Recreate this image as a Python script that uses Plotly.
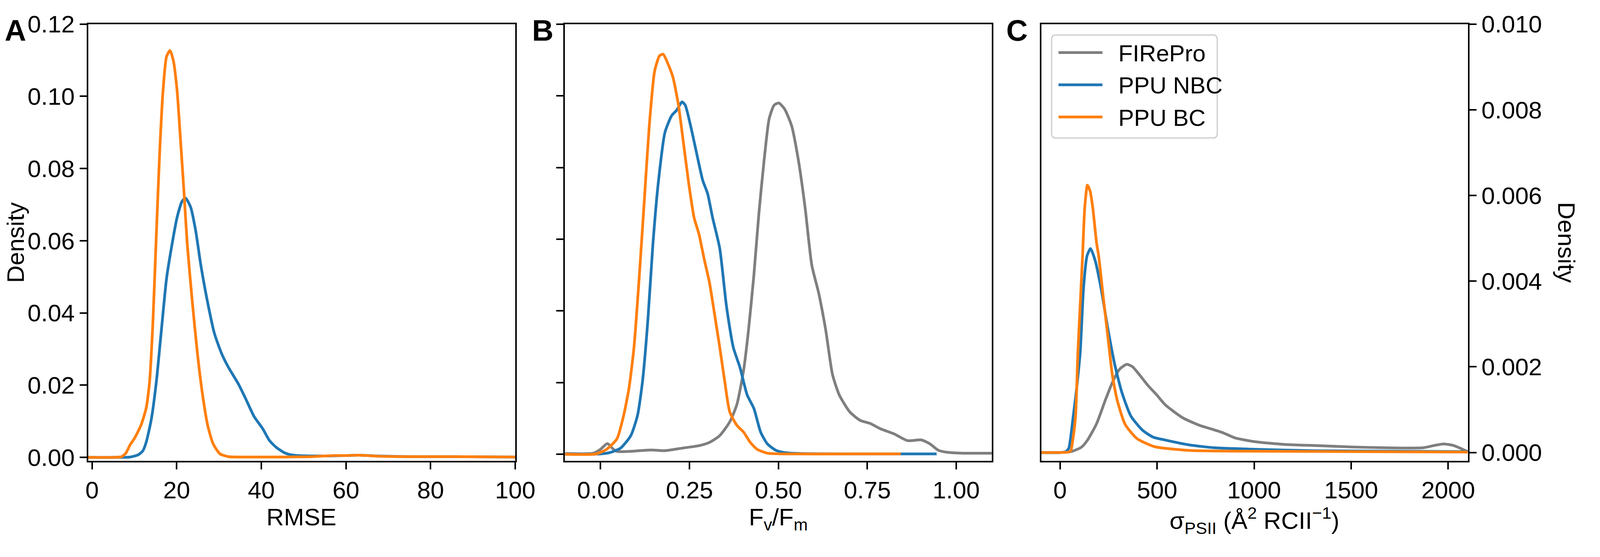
import plotly.graph_objects as go

# ---------------- data ----------------
# Panel A: RMSE densities
rmse_bc_x = [-1, 5, 7, 8, 9, 10, 11.6, 12.8, 13.6, 14.4, 15.2, 16, 16.8, 17.6, 18.4, 19.2, 20.1, 20.9,
             21.7, 22.5, 23.7, 24.9, 26.1, 27.3, 28.6, 30.2, 32.2, 36, 45, 52, 57, 60, 63, 68, 75, 85, 100]
rmse_bc_y = [0, 0, 0.0002, 0.0012, 0.0035, 0.0052, 0.009, 0.0137, 0.021, 0.038, 0.062, 0.085, 0.102,
             0.111, 0.1127, 0.110, 0.1015, 0.088, 0.074, 0.059, 0.043, 0.0288, 0.0175, 0.009, 0.0038,
             0.001, 0.0002, 0.0001, 0.0001, 0.0002, 0.0005, 0.0005, 0.0006, 0.0003, 0.0002, 0.0002, 0.0001]
rmse_nbc_x = [-1, 6, 9, 10.9, 12, 12.8, 14, 15.2, 16.4, 17.6, 18.9, 20.1, 21.3, 22.1, 23.3, 24.5, 25.7,
              27.3, 28.9, 30.6, 32.2, 34.6, 36.2, 38.3, 40.3, 41.9, 43.5, 45.6, 47.6, 51.6, 56, 60, 63,
              67, 75, 85, 100]
rmse_nbc_y = [0, 0, 0.0001, 0.0007, 0.0018, 0.0042, 0.0105, 0.021, 0.0354, 0.0495, 0.059, 0.0665, 0.071,
              0.0718, 0.0693, 0.0627, 0.0533, 0.043, 0.0344, 0.0288, 0.025, 0.0203, 0.0165, 0.0113,
              0.008, 0.0047, 0.0028, 0.0012, 0.0006, 0.0004, 0.0004, 0.0005, 0.0006, 0.0004, 0.0002,
              0.0002, 0.0001]

# Panel B: Fv/Fm densities
fvfm_fire_x = [-0.1, -0.02, 0.0, 0.019, 0.035, 0.046, 0.08, 0.142, 0.18, 0.229, 0.277, 0.306, 0.335,
               0.363, 0.383, 0.402, 0.416, 0.431, 0.445, 0.46, 0.474, 0.488, 0.501, 0.517, 0.537, 0.556,
               0.575, 0.594, 0.613, 0.633, 0.652, 0.671, 0.7, 0.729, 0.758, 0.787, 0.825, 0.863, 0.902,
               0.926, 0.95, 0.979, 1.02, 1.1]
fvfm_fire_y = [0.0002, 0.0003, 0.0014, 0.0030, 0.0015, 0.0008, 0.0008, 0.0012, 0.001, 0.0017, 0.0024,
               0.0033, 0.0052, 0.009, 0.0138, 0.0233, 0.0347, 0.0499, 0.067, 0.0822, 0.0936, 0.0974,
               0.098, 0.0964, 0.0917, 0.0822, 0.0689, 0.0527, 0.0451, 0.0347, 0.0223, 0.0166, 0.0119,
               0.0095, 0.0086, 0.0071, 0.0057, 0.0038, 0.004, 0.0029, 0.0011, 0.0005, 0.0003, 0.0003]
fvfm_nbc_x = [-0.1, 0.0, 0.027, 0.056, 0.085, 0.104, 0.118, 0.133, 0.147, 0.162, 0.181, 0.2, 0.214,
              0.229, 0.238, 0.253, 0.272, 0.287, 0.301, 0.315, 0.335, 0.354, 0.373, 0.392, 0.412, 0.431,
              0.45, 0.469, 0.493, 0.517, 0.56, 0.7, 0.945]
fvfm_nbc_y = [0, 0.0001, 0.0005, 0.0017, 0.0052, 0.0109, 0.0204, 0.0375, 0.0584, 0.0755, 0.0898, 0.0945,
              0.096, 0.0983, 0.0974, 0.0917, 0.0831, 0.0765, 0.0727, 0.066, 0.0575, 0.0413, 0.0299,
              0.0242, 0.0166, 0.0128, 0.0062, 0.0029, 0.0011, 0.0005, 0.0002, 0.0001, 0.0001]
fvfm_bc_x = [-0.1, -0.012, 0.017, 0.046, 0.065, 0.08, 0.094, 0.109, 0.123, 0.137, 0.152, 0.166, 0.176,
             0.19, 0.204, 0.219, 0.233, 0.248, 0.263, 0.277, 0.291, 0.306, 0.32, 0.335, 0.349, 0.363,
             0.383, 0.402, 0.421, 0.44, 0.469, 0.52, 0.7, 0.844]
fvfm_bc_y = [0, 0.0001, 0.0014, 0.0043, 0.0109, 0.0185, 0.0299, 0.0499, 0.0708, 0.0917, 0.1069, 0.1112,
             0.1116, 0.1088, 0.105, 0.0974, 0.0869, 0.0755, 0.066, 0.0613, 0.0546, 0.048, 0.0394,
             0.0299, 0.0204, 0.0119, 0.0081, 0.0062, 0.0033, 0.0014, 0.0003, 0.0001, 0.0001, 0.0001]

# Panel C: sigma PSII densities
sig_fire_x = [-100, 0, 56, 109, 140, 187, 234, 270, 306, 344, 374, 401, 454, 497, 543, 632, 721, 779,
              840, 902, 1008, 1149, 1325, 1501, 1678, 1871, 1924, 1977, 2030, 2100]
sig_fire_y = [0, 0, 0.00002, 0.00012, 0.00028, 0.00066, 0.00123, 0.00164, 0.00194, 0.00206, 0.002,
              0.00186, 0.00156, 0.00135, 0.00111, 0.00081, 0.00063, 0.00055, 0.00046, 0.00034,
              0.00025, 0.00019, 0.00016, 0.00013, 0.00011, 0.00011, 0.00016, 0.0002, 0.00016, 0.00002]
sig_nbc_x = [-100, 0, 30, 45, 56, 68, 83, 104, 121, 139, 157, 181, 211, 246, 282, 318, 365, 425, 479,
             543, 662, 797, 973, 1325, 2100]
sig_nbc_y = [0, 0, 0.00002, 0.0001, 0.0004, 0.00085, 0.0014, 0.00235, 0.00384, 0.00459, 0.00476,
             0.00448, 0.00384, 0.0029, 0.00205, 0.00141, 0.00085, 0.00052, 0.00036, 0.00029, 0.00018,
             0.00011, 0.00008, 0.00004, 0.00002]
sig_bc_x = [-100, 0, 45, 56, 66, 80, 92, 108, 116, 127, 141, 155, 169, 188, 199, 222, 246, 270, 294,
            335, 395, 484, 662, 973, 2100]
sig_bc_y = [0, 0, 0.00001, 0.00005, 0.0003, 0.00085, 0.00235, 0.00384, 0.00459, 0.0057, 0.00624,
            0.0061, 0.0057, 0.0049, 0.00459, 0.00365, 0.00272, 0.00179, 0.00123, 0.00066, 0.00033,
            0.00014, 0.00005, 0.00003, 0.00001]

series_names = ["FIRePro", "PPU NBC", "PPU BC"]
x_ticks_a = [0, 20, 40, 60, 80, 100]
x_ticks_b = [0.0, 0.25, 0.5, 0.75, 1.0]
x_ticks_c = [0, 500, 1000, 1500, 2000]
y_ticks_ab = [0, 0.02, 0.04, 0.06, 0.08, 0.10, 0.12]
y_ticks_c = [0, 0.002, 0.004, 0.006, 0.008, 0.010]

# ---------------- style / layout ----------------
W, H = 4561, 1425
GRAY, BLUE, ORANGE = "#7f7f7f", "#1f77b4", "#ff7f0e"
FONT = "Liberation Sans, Arial, sans-serif"
FS = 62
LW = 7

def px_x(p):
    return p / W

def px_y(p):
    return 1 - p / H

top_px, bot_px = 29, 1195
panels_px = {"A": (248, 1483), "B": (1627, 2861), "C": (3004, 4238)}

fig = go.Figure()

def add_line(x, y, color, xa, ya):
    fig.add_trace(go.Scatter(
        x=x, y=y, mode="lines", xaxis=xa, yaxis=ya, showlegend=False, hoverinfo="skip",
        line=dict(color=color, width=LW, shape="spline", smoothing=0.6)))

add_line(rmse_nbc_x, rmse_nbc_y, BLUE, "x", "y")
add_line(rmse_bc_x, rmse_bc_y, ORANGE, "x", "y")
add_line(fvfm_fire_x, fvfm_fire_y, GRAY, "x2", "y2")
add_line(fvfm_nbc_x, fvfm_nbc_y, BLUE, "x2", "y2")
add_line(fvfm_bc_x, fvfm_bc_y, ORANGE, "x2", "y2")
add_line(sig_fire_x, sig_fire_y, GRAY, "x3", "y3")
add_line(sig_nbc_x, sig_nbc_y, BLUE, "x3", "y3")
add_line(sig_bc_x, sig_bc_y, ORANGE, "x3", "y3")

axis_common = dict(showline=True, linecolor="black", linewidth=4, mirror=True, ticks="outside",
                   ticklen=18, tickwidth=3.5, tickcolor="black", showgrid=False, zeroline=False,
                   ticklabeloverflow="allow",
                   tickfont=dict(family=FONT, size=FS, color="black"))
ydom = [px_y(bot_px), px_y(top_px)]

fig.update_layout(
    width=W, height=H, margin=dict(l=0, r=0, t=0, b=0),
    paper_bgcolor="white", plot_bgcolor="white",
    font=dict(family=FONT, size=FS, color="black"),
    xaxis=dict(domain=[px_x(panels_px["A"][0]), px_x(panels_px["A"][1])], range=[-0.93, 100],
               tickvals=x_ticks_a, ticktext=[str(v) for v in x_ticks_a], anchor="y", **axis_common),
    yaxis=dict(domain=ydom, range=[-0.00093, 0.12], tickvals=y_ticks_ab,
               ticktext=[f"{v:.2f}" for v in y_ticks_ab], anchor="x", **axis_common),
    xaxis2=dict(domain=[px_x(panels_px["B"][0]), px_x(panels_px["B"][1])], range=[-0.1, 1.1],
                tickvals=x_ticks_b, ticktext=[f"{v:.2f}" for v in x_ticks_b], anchor="y2", **axis_common),
    yaxis2=dict(domain=ydom, range=[-0.0018, 0.12], tickvals=y_ticks_ab, showticklabels=False,
                anchor="x2", **axis_common),
    xaxis3=dict(domain=[px_x(panels_px["C"][0]), px_x(panels_px["C"][1])], range=[-97, 2102],
                tickvals=x_ticks_c, ticktext=[str(v) for v in x_ticks_c], anchor="y3", **axis_common),
    yaxis3=dict(domain=ydom, range=[-0.000192, 0.010], tickvals=y_ticks_c,
                ticktext=[f"{v:.3f}" for v in y_ticks_c], side="right", anchor="x3", **axis_common),
)

ann = []
def text(xp, yp, s, size=FS, xanchor="center", yanchor="middle", angle=0):
    ann.append(dict(x=px_x(xp), y=px_y(yp), xref="paper", yref="paper", text=s, showarrow=False,
                    xanchor=xanchor, yanchor=yanchor, textangle=angle, borderpad=0,
                    font=dict(family=FONT, size=size, color="black")))

# panel letters
text(6, 0, "<b>A</b>", size=76, xanchor="left", yanchor="top")
text(1530, 0, "<b>B</b>", size=76, xanchor="left", yanchor="top")
text(2902, 0, "<b>C</b>", size=76, xanchor="left", yanchor="top")
# axis titles
text(865, 1345, "RMSE")
text(2244, 1350, "F<sub>v</sub>/F<sub>m</sub>")
text(3621, 1355, "σ<sub>PSII</sub> (Å<sup>2</sup> RCII<sup>−1</sup>)")
text(38, 612, "Density", angle=-90)
text(4523, 612, "Density", angle=90)

# legend (panel C)
lx0, ly0, lx1, ly1, r = 3034, 58, 3513, 333, 12
path = (f"M {px_x(lx0 + r)},{px_y(ly0)} L {px_x(lx1 - r)},{px_y(ly0)} "
        f"Q {px_x(lx1)},{px_y(ly0)} {px_x(lx1)},{px_y(ly0 + r)} L {px_x(lx1)},{px_y(ly1 - r)} "
        f"Q {px_x(lx1)},{px_y(ly1)} {px_x(lx1 - r)},{px_y(ly1)} L {px_x(lx0 + r)},{px_y(ly1)} "
        f"Q {px_x(lx0)},{px_y(ly1)} {px_x(lx0)},{px_y(ly1 - r)} L {px_x(lx0)},{px_y(ly0 + r)} "
        f"Q {px_x(lx0)},{px_y(ly0)} {px_x(lx0 + r)},{px_y(ly0)} Z")
shapes = [dict(type="path", path=path, xref="paper", yref="paper",
               line=dict(color="#cccccc", width=3), fillcolor="rgba(255,255,255,0.8)")]
for name, color, yy in zip(series_names, [GRAY, BLUE, ORANGE], [105, 191, 277]):
    shapes.append(dict(type="line", xref="paper", yref="paper", x0=px_x(3054), x1=px_x(3181),
                       y0=px_y(yy), y1=px_y(yy), line=dict(color=color, width=LW)))
    text(3226, yy + 2, name, size=60, xanchor="left")

fig.update_layout(annotations=ann, shapes=shapes)

# fit the figure to the actual browser viewport (no page margin, no scrollbars)
fit_js = ("document.documentElement.style.margin='0';document.body.style.margin='0';"
          "document.documentElement.style.overflow='hidden';document.body.style.overflow='hidden';"
          "var gd=document.getElementById('{plot_id}');"
          "Plotly.relayout(gd,{width:window.innerWidth,height:window.innerHeight});")
fig.write_html("out.html", post_script=fit_js, config={"displayModeBar": False})
